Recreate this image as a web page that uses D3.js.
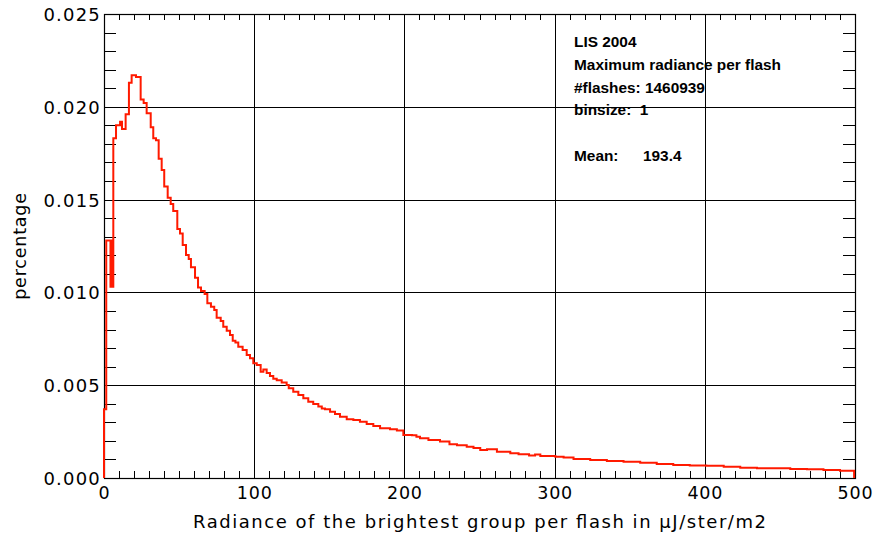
<!DOCTYPE html>
<html>
<head>
<meta charset="utf-8">
<script src="https://cdn.jsdelivr.net/npm/d3@7"></script>
<style>
  html, body { margin: 0; padding: 0; background: #fff; }
  svg { display: block; }
</style>
</head>
<body>
<svg id="chart" width="876" height="533"></svg>
<script>
// ---- data ----
const binStart = [0, 1.5, 4.3, 4.9, 5.6, 6.2, 8, 10.7, 12, 14.4, 16.6, 18.4, 21.3, 24.4, 26.4, 28.4, 31.1, 32.8, 34.6, 36.4,
  38.4, 40.1, 42.4, 44.4, 46.1, 48.8, 50.6, 52.4, 54.6, 56.4, 57.9, 60.6, 62.6, 64.6, 67, 68.8, 71.2, 73.4, 75, 77.7,
  79.4, 81.7, 83.9, 85.7, 87.5, 89.4, 92.3, 95, 97.2, 99.4, 101.7, 104.3, 106.1, 108.3, 110.5, 112.7, 115, 118.3, 121.6, 123,
  126, 129.4, 132.7, 136, 139.3, 142.7, 145, 147.1, 150.5, 153.8, 157.1, 161.6, 166, 170.4, 174.9, 179.3, 183.8, 190.4, 195, 199.3,
  205, 208, 210.4, 216, 223.7, 230, 235, 241.5, 246, 250.5, 255, 261.6, 270.5, 276, 283, 287, 290.5, 300.5, 306, 312.6,
  323.7, 334.8, 345.9, 357, 368, 379, 390, 401, 412.6, 423.6, 434.7, 445.8, 456.9, 468, 479, 490, 499.4];
const binValue = [0.0037, 0.0128, 0.0103, 0.0128, 0.0103, 0.0183, 0.0190, 0.0192, 0.0188, 0.0196, 0.0213, 0.0217, 0.0216, 0.0204, 0.0202, 0.01965, 0.0189, 0.0183, 0.0182, 0.0172,
  0.0166, 0.0157, 0.0151, 0.01476, 0.01439, 0.01342, 0.01318, 0.01255, 0.01202, 0.0118, 0.01135, 0.01079, 0.01027, 0.01008, 0.00991, 0.00941, 0.00923, 0.00905, 0.00864, 0.00846,
  0.00815, 0.00794, 0.0077, 0.0074, 0.0073, 0.00707, 0.0069, 0.00663, 0.00645, 0.00618, 0.00609, 0.00573, 0.00584, 0.00566, 0.0055, 0.00535, 0.00526, 0.00515, 0.00501, 0.00483,
  0.00465, 0.00447, 0.0043, 0.00411, 0.00399, 0.00385, 0.00375, 0.0037, 0.00357, 0.00345, 0.0033, 0.00316, 0.00312, 0.00303, 0.00291, 0.0028, 0.00268, 0.00262, 0.00256, 0.00232,
  0.0023, 0.00222, 0.00214, 0.00205, 0.00196, 0.00182, 0.00176, 0.00169, 0.00162, 0.00151, 0.00155, 0.00142, 0.00133, 0.00128, 0.00121, 0.00127, 0.00119, 0.00115, 0.0011, 0.00102,
  0.00097, 0.00092, 0.00088, 0.00082, 0.00075, 0.0007, 0.00068, 0.00066, 0.00061, 0.00055, 0.00052, 0.00052, 0.00048, 0.00047, 0.00043, 0.00039, 0];

const xTicks = [0, 100, 200, 300, 400, 500];
const yTicks = [0.000, 0.005, 0.010, 0.015, 0.020, 0.025];
const xMinor = d3.range(0, 501, 10);
const yMinor = d3.range(0, 0.02501, 0.001);
const annotation = ["LIS 2004", "Maximum radiance per flash", "#flashes: 1460939", "binsize:  1", "", "Mean:"];
const meanValue = "193.4";
const xTitle = "Radiance of the brightest group per flash in \u03BCJ/ster/m2";
const yTitle = "percentage";

// ---- layout ----
const L = 104, R = 855, T = 14, B = 478;
const svg = d3.select("#chart");
const x = d3.scaleLinear().domain([0, 500]).range([L, R]);
const y = d3.scaleLinear().domain([0, 0.025]).range([B, T]);
const font = "'DejaVu Sans', sans-serif";

// grid
const g = svg.append("g");
g.selectAll(".gx").data(xTicks.slice(1, -1)).join("line")
  .attr("x1", d => Math.round(x(d)) + 0.5).attr("x2", d => Math.round(x(d)) + 0.5).attr("y1", T).attr("y2", B)
  .attr("stroke", "#000").attr("stroke-width", 1);
g.selectAll(".gy").data(yTicks.slice(1, -1)).join("line")
  .attr("y1", d => Math.round(y(d)) + 0.5).attr("y2", d => Math.round(y(d)) + 0.5).attr("x1", L).attr("x2", R)
  .attr("stroke", "#000").attr("stroke-width", 1);

// minor ticks
g.selectAll(".mxb").data(xMinor).join("line")
  .attr("x1", d => Math.round(x(d)) + 0.5).attr("x2", d => Math.round(x(d)) + 0.5).attr("y1", B).attr("y2", B - 7)
  .attr("stroke", "#000");
g.selectAll(".mxt").data(xMinor).join("line")
  .attr("x1", d => Math.round(x(d)) + 0.5).attr("x2", d => Math.round(x(d)) + 0.5).attr("y1", T).attr("y2", T + 6)
  .attr("stroke", "#000");
g.selectAll(".myl").data(yMinor).join("line")
  .attr("y1", d => Math.round(y(d)) + 0.5).attr("y2", d => Math.round(y(d)) + 0.5).attr("x1", L).attr("x2", L + 12)
  .attr("stroke", "#000");
g.selectAll(".myr").data(yMinor).join("line")
  .attr("y1", d => Math.round(y(d)) + 0.5).attr("y2", d => Math.round(y(d)) + 0.5).attr("x1", R).attr("x2", R - 12)
  .attr("stroke", "#000");

// frame
g.append("rect").attr("x", L + 0.5).attr("y", T + 0.5).attr("width", R - L).attr("height", B - T)
  .attr("fill", "none").attr("stroke", "#000").attr("stroke-width", 1.2);

// series (histogram step line)
const pts = binStart.map((s, i) => [s, binValue[i]]);
const line = d3.line().x(d => x(d[0])).y(d => y(d[1])).curve(d3.curveStepAfter);
svg.append("path")
  .attr("d", line([[0, 0], ...pts]))
  .attr("fill", "none").attr("stroke", "#ff1a00").attr("stroke-width", 2);

// axes labels via d3 axes
const xAxis = d3.axisBottom(x).tickValues(xTicks).tickSize(0).tickPadding(0).tickFormat(d3.format("d"));
const xa = svg.append("g").attr("transform", `translate(0,${B})`).call(xAxis);
xa.select(".domain").remove();
xa.selectAll("text").attr("y", 21).attr("dy", 0)
  .style("font-family", font).style("font-size", "17.5px").attr("fill", "#000").attr("letter-spacing", "0.8px");

const yAxis = d3.axisLeft(y).tickValues(yTicks).tickSize(0).tickPadding(0).tickFormat(d3.format(".3f"));
const ya = svg.append("g").attr("transform", `translate(${L - 3},0)`).call(yAxis);
ya.select(".domain").remove();
ya.selectAll("text").attr("x", 0).attr("dy", "0.36em")
  .style("font-family", font).style("font-size", "18px").attr("fill", "#000").attr("letter-spacing", "1.2px");

// titles
svg.append("text").attr("x", (L + R) / 2).attr("y", 528).attr("text-anchor", "middle")
  .attr("textLength", 573).attr("lengthAdjust", "spacing")
  .style("font-family", font).style("font-size", "18px").text(xTitle);
svg.append("text").attr("transform", `translate(26,${(T + B) / 2}) rotate(-90)`).attr("text-anchor", "middle")
  .style("font-family", font).style("font-size", "17.5px").attr("letter-spacing", "0.8px").text(yTitle);

// annotation block
const ann = svg.append("g").style("font-family", "'Liberation Sans', Arial, sans-serif")
  .style("font-size", "15.4px").style("font-weight", "bold");
ann.selectAll("text").data(annotation).join("text")
  .attr("x", 574).attr("y", (d, i) => 47.3 + i * 22.7).attr("xml:space", "preserve").text(d => d);
ann.append("text").attr("x", 643).attr("y", 47.3 + 5 * 22.7).text(meanValue);
</script>
</body>
</html>
